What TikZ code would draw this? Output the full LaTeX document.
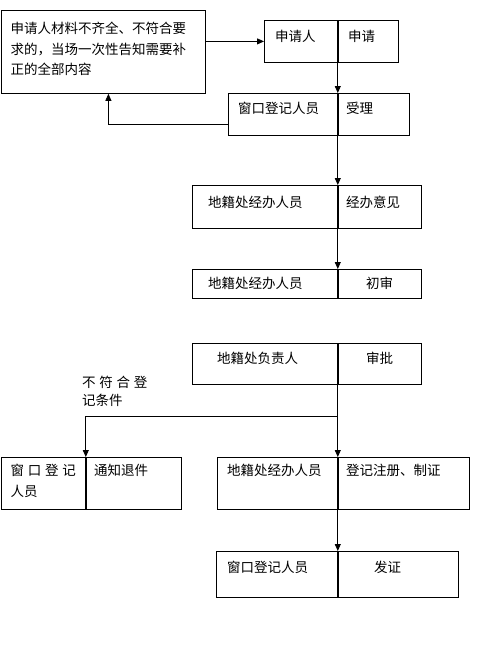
\documentclass[tikz,border=0pt]{standalone}
\usepackage{fontspec}
\newfontfamily\cjk{Noto Sans CJK SC}
\usetikzlibrary{arrows.meta, positioning, calc}

\begin{document}
\begin{tikzpicture}[x=1pt, y=-1pt,
    cell/.style={draw, line width=0.8pt, inner sep=0pt, anchor=north west},
    txt/.style={inner sep=0pt, anchor=north west, align=left, font=\cjk\fontsize{13.5pt}{20.5pt}\selectfont},
    arr/.style={line width=0.8pt, -{Triangle[length=7pt, width=6pt]}}]
  \useasboundingbox (0,0) rectangle (483,646);

  % note box on the left
  \node[cell, minimum width=204pt, minimum height=83pt] (a) at (0.5,10) {};
  \node[txt, below right=12pt and 10pt of a.north west] (ta) {申请人材料不齐全、不符合要\\求的，当场一次性告知需要补\\正的全部内容};

  % split boxes
  \node[cell, minimum width=73pt, minimum height=42pt] (b1) at (264,20) {};
  \node[cell, minimum width=60pt, minimum height=42pt] (b2) at (b1.north east) {};
  \node[txt, below right=10pt and 11pt of b1.north west] (tb1) {申请人};
  \node[txt, below right=10pt and 10pt of b2.north west] (tb2) {申请};

  \node[cell, minimum width=109pt, minimum height=42pt] (c1) at (228,93) {};
  \node[cell, minimum width=71pt, minimum height=42pt] (c2) at (c1.north east) {};
  \node[txt, below right=9pt and 10pt of c1.north west] (tc1) {窗口登记人员};
  \node[txt, below right=9pt and 8pt of c2.north west] (tc2) {受理};

  \node[cell, minimum width=145pt, minimum height=43pt] (d1) at (192,185) {};
  \node[cell, minimum width=83pt, minimum height=43pt] (d2) at (d1.north east) {};
  \node[txt, below right=11pt and 16pt of d1.north west] (td1) {地籍处经办人员};
  \node[txt, below right=11pt and 8pt of d2.north west] (td2) {经办意见};

  \node[cell, minimum width=145pt, minimum height=29pt] (e1) at (192,269) {};
  \node[cell, minimum width=83pt, minimum height=29pt] (e2) at (e1.north east) {};
  \node[txt, below right=8pt and 16pt of e1.north west] (te1) {地籍处经办人员};
  \node[txt, below right=8pt and 28pt of e2.north west] (te2) {初审};

  \node[cell, minimum width=145pt, minimum height=41pt] (f1) at (192,343) {};
  \node[cell, minimum width=83pt, minimum height=41pt] (f2) at (f1.north east) {};
  \node[txt, below right=9pt and 25pt of f1.north west] (tf1) {地籍处负责人};
  \node[txt, below right=9pt and 28pt of f2.north west] (tf2) {审批};

  \node[txt, font=\cjk\fontsize{13.5pt}{18pt}\selectfont] (tno) at (82,376) {不\hspace{3.7pt}符\hspace{3.7pt}合\hspace{3.7pt}登\\记条件};

  \node[cell, minimum width=84.5pt, minimum height=52pt] (g1) at (0.5,457) {};
  \node[cell, minimum width=95pt, minimum height=52pt] (g2) at (g1.north east) {};
  \node[txt, below right=7pt and 10pt of g1.north west] (tg1) {窗\hspace{3.7pt}口\hspace{3.7pt}登\hspace{3.7pt}记\\人员};
  \node[txt, below right=7pt and 8pt of g2.north west] (tg2) {通知退件};

  \node[cell, minimum width=120pt, minimum height=52pt] (h1) at (217,457) {};
  \node[cell, minimum width=131pt, minimum height=52pt] (h2) at (h1.north east) {};
  \node[txt, below right=7pt and 10pt of h1.north west] (th1) {地籍处经办人员};
  \node[txt, below right=7pt and 8pt of h2.north west] (th2) {登记注册、制证};

  \node[cell, minimum width=121pt, minimum height=46pt] (i1) at (216,551) {};
  \node[cell, minimum width=120pt, minimum height=46pt] (i2) at (i1.north east) {};
  \node[txt, below right=10pt and 11pt of i1.north west] (ti1) {窗口登记人员};
  \node[txt, below right=10pt and 36pt of i2.north west] (ti2) {发证};

  % connectors
  \draw[arr] (a.east |- b1.west) -- (b1.west);
  \draw[arr] (b2.south west) -- (c2.north west);
  \draw[arr] ([yshift=11pt]c1.south west) -| ([xshift=5.5pt]a.south);
  \draw[arr] (c2.south west) -- (d2.north west);
  \draw[arr] (d2.south west) -- (e2.north west);
  \draw[arr] (f2.south west) -- (h2.north west);
  \coordinate (split) at (337,416);
  \draw[arr] (split) -| (g2.north west);
  \draw[arr] (h2.south west) -- (i2.north west);
\end{tikzpicture}
\end{document}
